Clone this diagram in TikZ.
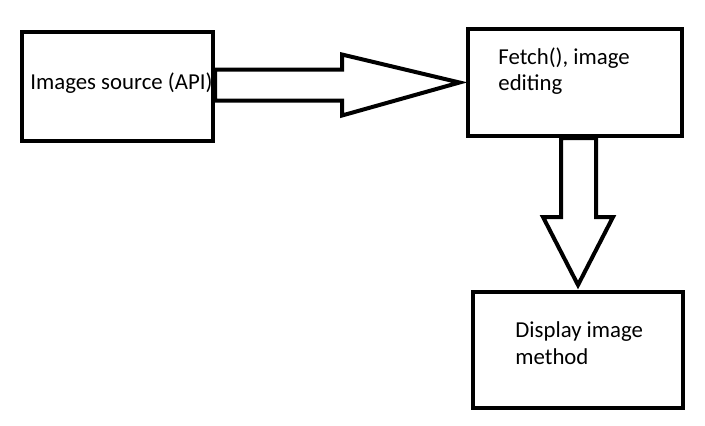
\documentclass[tikz,border=0pt]{standalone}
\usepackage{fontspec}
\setmainfont{Carlito}
\usetikzlibrary{calc}

\tikzset{
  box/.style={draw, line width=2pt, rectangle, inner sep=0pt},
  blockarrow/.style={draw, line width=2pt, line join=miter},
  lbl/.style={inner sep=0pt, align=left, font=\fontsize{11.4}{13.4}\selectfont}
}

\begin{document}
\begin{tikzpicture}[x=0.5pt,y=-0.5pt]
\useasboundingbox (0,0) rectangle (705,425);
% boxes
\node[box, minimum width=95.5pt, minimum height=54.5pt] (src) at (117.5,86.5){};
\node[box, minimum width=107pt, minimum height=53.5pt] (fetch) at (575,82.5){};
\node[box, minimum width=105pt, minimum height=58pt] (disp) at (578,350){};
% labels
\node[lbl, anchor=base west] (srctxt) at (30,89){Images source (API)};
\node[lbl, anchor=north west] (fetchtxt) at ($(fetch.north west)+(32,20)$){Fetch(), image\\editing};
\node[lbl, anchor=north west] (disptxt) at ($(disp.north west)+(44,31)$){Display image\\method};
% block arrows
\draw[blockarrow] ($(src.east)+(0,-17)$) -- ++(127,0) -- ++(0,-15) -- ($(fetch.west)+(-6.5,0)$)
  -- ($(src.east)+(127,29)$) -- ++(0,-15) -- ($(src.east)+(0,14)$) -- cycle;
\draw[blockarrow] ($(fetch.south)+(-14,0)$) -- ++(0,79) -- ++(-18,0) -- ($(disp.north)+(0,-5)$)
  -- ($(fetch.south)+(38,79)$) -- ++(-17,0) -- ($(fetch.south)+(21,0)$) -- cycle;
\end{tikzpicture}
\end{document}
